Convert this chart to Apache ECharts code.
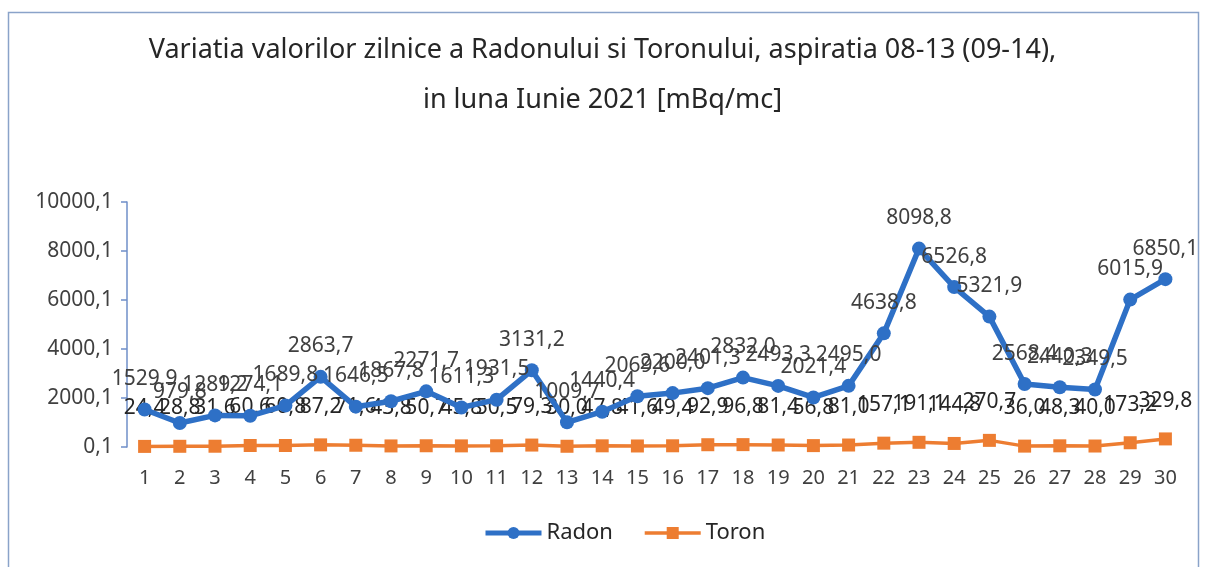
<!DOCTYPE html>
<html>
<head>
<meta charset="utf-8">
<script src="https://cdn.jsdelivr.net/npm/echarts@6/dist/echarts.min.js"></script>
<style>
html,body{margin:0;padding:0;background:#fff;}
#chart{width:1205px;height:567px;}
</style>
</head>
<body>
<div id="chart"></div>
<script>
const days = ['1','2','3','4','5','6','7','8','9','10','11','12','13','14','15','16','17','18','19','20','21','22','23','24','25','26','27','28','29','30'];
const radon = [1529.9, 979.8, 1289.2, 1274.1, 1689.8, 2863.7, 1646.5, 1867.8, 2271.7, 1611.3, 1931.5, 3131.2, 1009.7, 1440.4, 2069.6, 2200.0, 2401.3, 2832.0, 2493.3, 2021.4, 2495.0, 4638.8, 8098.8, 6526.8, 5321.9, 2568.4, 2440.3, 2349.5, 6015.9, 6850.1];
const toron = [24.4, 28.8, 31.6, 60.6, 60.8, 87.2, 71.6, 43.8, 50.7, 45.8, 50.5, 79.3, 30.0, 47.8, 41.6, 49.4, 92.9, 96.8, 81.4, 56.8, 81.0, 157.1, 191.1, 144.8, 270.7, 36.0, 48.3, 40.0, 173.2, 329.8];
const yTickLabels = ['0,1','2000,1','4000,1','6000,1','8000,1','10000,1'];
const titleText = 'Variatia valorilor zilnice a Radonului si Toronului, aspiratia 08-13 (09-14),\nin luna Iunie 2021 [mBq/mc]';

const fmt = v => Number(v).toFixed(1).replace('.', ',');
const chart = echarts.init(document.getElementById('chart'));
const FONT = 'Noto Sans';
chart.setOption({
  backgroundColor: '#ffffff',
  animation: false,
  graphic: [{
    type: 'rect', z: -10,
    shape: {x: 8.5, y: 12.5, width: 1190, height: 570},
    style: {fill: 'none', stroke: '#8aa3c9', lineWidth: 1.5}
  }],
  title: {
    text: titleText,
    left: 'center', top: 20,
    textStyle: {fontFamily: FONT, fontSize: 27, fontWeight: 'normal', color: '#262626', lineHeight: 50}
  },
  legend: {
    bottom: 18, left: 478,
    itemWidth: 56, itemHeight: 15, itemGap: 30,
    textStyle: {fontFamily: FONT, fontSize: 22, color: '#262626'},
    data: [
      {name: 'Radon', lineStyle: {width: 5}},
      {name: 'Toron', lineStyle: {width: 3.5}}
    ]
  },
  grid: {left: 127, right: 22, top: 202, bottom: 120},
  xAxis: {
    type: 'category', data: days, boundaryGap: true,
    axisLine: {show: false}, axisTick: {show: false},
    axisLabel: {fontFamily: FONT, fontSize: 20, color: '#404040', margin: 21}
  },
  yAxis: {
    type: 'value', min: 0, max: 10000, interval: 2000,
    axisLine: {show: true, lineStyle: {color: '#6f8fc9', width: 1.5}},
    axisTick: {show: true, length: 6, lineStyle: {color: '#6f8fc9', width: 1.5}},
    splitLine: {show: false},
    axisLabel: {fontFamily: FONT, fontSize: 21, color: '#404040', margin: 14,
      formatter: v => yTickLabels[Math.round(v / 2000)]}
  },
  series: [{
    name: 'Radon', type: 'line', data: radon,
    symbol: 'circle', symbolSize: 14,
    lineStyle: {color: '#2E70C6', width: 5.5},
    itemStyle: {color: '#2E70C6'},
    label: {show: true, position: 'top', distance: 13, fontFamily: FONT, fontSize: 21, color: '#404040', formatter: p => fmt(p.value)},
    labelLayout: {hideOverlap: false},
    z: 3
  }, {
    name: 'Toron', type: 'line', data: toron,
    symbol: 'rect', symbolSize: 13,
    lineStyle: {color: '#ED7D31', width: 3.5},
    itemStyle: {color: '#ED7D31'},
    label: {show: true, position: 'top', distance: 21, fontFamily: FONT, fontSize: 21, color: '#262626', formatter: p => fmt(p.value)},
    labelLayout: {hideOverlap: false},
    z: 2
  }]
});
</script>
</body>
</html>
